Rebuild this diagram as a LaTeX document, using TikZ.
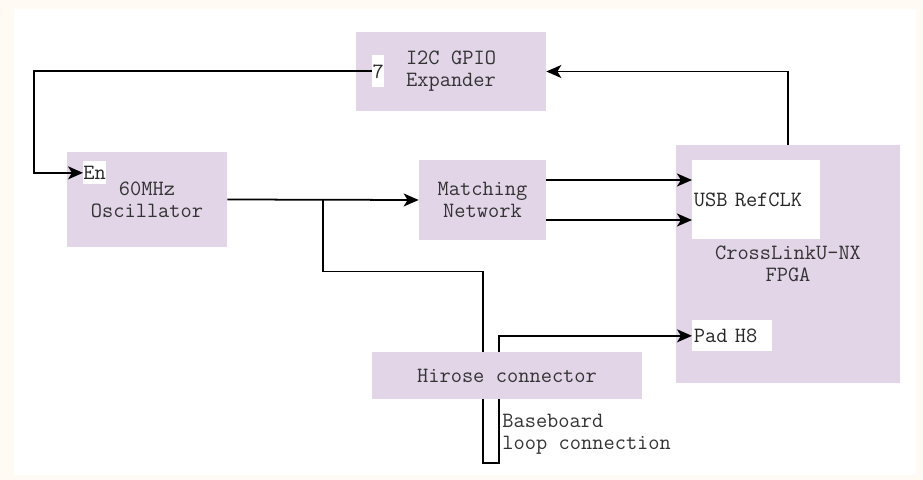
\documentclass[tikz,border=0pt]{standalone}
\usepackage{fontspec}
\usetikzlibrary{positioning,arrows.meta,calc}

\definecolor{blockfill}{HTML}{E1D5E7}
\definecolor{pagetint}{HTML}{FFFAF3}
\newcommand\blockfont{\ttfamily\fontsize{12.4}{12.5}\selectfont\spaceskip=0.525em\relax}

\begin{document}
\begin{tikzpicture}[x=0.2mm,y=-0.2mm,>={Stealth[length=3mm,width=2.6mm,inset=0.8mm]},
  block/.style={fill=blockfill,inner sep=0pt,align=center,text=black!80,font=\blockfont},
  pinbox/.style={fill=white,inner sep=0pt,text=black!85,font=\blockfont},
  wire/.style={line width=1pt}]
  % page
  \fill[pagetint] (0,0) rectangle (923,480);
  \fill[white] (14,9) rectangle (916,475);
  \useasboundingbox (0,0) rectangle (923,480);

  % blocks
  \node[block,minimum width=38mm,minimum height=15.8mm] (i2c) at (451,71.5) {I2C GPIO\\Expander};
  \node[block,minimum width=32mm,minimum height=19mm] (osc) at (147,199.5) {60MHz\\Oscillator};
  \node[block,minimum width=25.4mm,minimum height=16mm] (match) at (482.5,200) {Matching\\Network};
  \node[block,minimum width=44.8mm,minimum height=47.6mm] (fpga) at (788,264) {CrossLinkU-NX\\FPGA};
  \node[block,minimum width=54mm,minimum height=9.4mm] (hirose) at (507,375.5) {Hirose connector};

  % pins
  \node[pinbox,anchor=north west,minimum width=2.4mm,minimum height=6.4mm] (seven) at (372,55) {7};
  \node[pinbox,anchor=north west,minimum width=4.4mm,minimum height=4.6mm] (en) at (83,161) {En};
  \node[pinbox,anchor=north west,minimum width=25.6mm,minimum height=15.8mm,text width=25mm,align=left] (usb) at (692,160) {USB RefCLK};
  \node[pinbox,anchor=north west,minimum width=16mm,minimum height=6.2mm,text width=15.4mm,align=left] (pad) at (692,320) {Pad H8};

  % enable and I2C
  \draw[wire,->] (seven.west) -- ++(-338,0) |- (en.west);
  \draw[wire,->] (fpga.north) |- (i2c.east);

  % clock path
  \draw[wire,->] (osc.east) -- (match.west);
  \draw[wire,->] ([yshift=4mm]match.east) -- ([yshift=4mm]match.east -| usb.west);
  \draw[wire,->] ([yshift=-4mm]match.east) -- ([yshift=-4mm]match.east -| usb.west);

  % loop through the baseboard
  \coordinate (tap) at (323,199.5);
  \coordinate (loopin) at (483,352);
  \coordinate (loopout) at (499,352);
  \draw[wire] (tap) -- ++(0,72) -| (loopin);
  \draw[wire,->] (loopout) |- (pad.west);
  \draw[wire] (loopin |- hirose.south) -- ++(0,64) -| (loopout |- hirose.south);
  \node[anchor=north west,inner sep=0pt,align=left,text=black!80,font=\blockfont]
    (loopnote) at (502,414) {Baseboard\\loop connection};
\end{tikzpicture}
\end{document}
